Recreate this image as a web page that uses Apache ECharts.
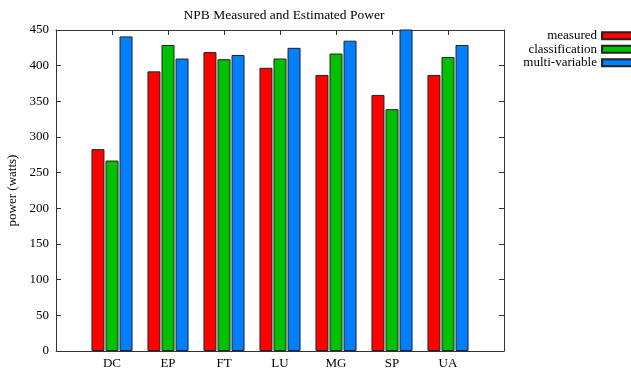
<!DOCTYPE html>
<html>
<head>
<meta charset="utf-8">
<script src="https://cdn.jsdelivr.net/npm/echarts@6/dist/echarts.min.js"></script>
<style>
  html, body { margin: 0; padding: 0; background: #fff; }
  #chart { width: 631px; height: 377px; }
</style>
</head>
<body>
<div id="chart"></div>
<script>
// NPB benchmark power: measured vs. two estimation models
const categories = ['DC', 'EP', 'FT', 'LU', 'MG', 'SP', 'UA'];
const measured = [283, 392, 419, 397, 387, 359, 387];
const classification = [267, 429, 409, 410, 417, 339, 412];
const multiVariable = [441, 410, 415, 425, 435, 458, 429];
const yTicks = [0, 50, 100, 150, 200, 250, 300, 350, 400, 450];

const FONT = 'Liberation Serif';
const FONT_SIZE = 13;
const AXIS_COLOR = '#333';

// Benchmarks sit at x = 1..n on a value axis spanning 0..n+1
const toPoints = vals => vals.map((v, i) => [i + 1, v]);

const barStyle = color => ({ color: color, borderColor: '#222', borderWidth: 1 });

const frameLine = { show: true, onZero: false, lineStyle: { color: AXIS_COLOR, width: 1 } };
const innerTick = { show: true, inside: true, length: 5, lineStyle: { color: AXIS_COLOR } };

const chart = echarts.init(document.getElementById('chart'), null, { renderer: 'canvas' });

chart.setOption({
  animation: false,
  backgroundColor: '#fff',
  title: {
    text: 'NPB Measured and Estimated Power',
    left: 279, top: 3, textAlign: 'center',
    textStyle: { fontFamily: FONT, fontSize: 13.5, fontWeight: 'normal', color: '#000' }
  },
  legend: {
    orient: 'vertical',
    align: 'right',
    right: -2, top: 29,
    padding: 0,
    itemGap: 0,
    itemWidth: 30, itemHeight: 7,
    icon: 'rect',
    textStyle: { fontFamily: FONT, fontSize: FONT_SIZE, color: '#000', lineHeight: 13.5 },
    data: ['measured', 'classification', 'multi-variable']
  },
  grid: { left: 56, right: 127, top: 30, bottom: 26, containLabel: false, outerBoundsMode: 'none' },
  xAxis: [
    {
      type: 'value', min: 0, max: categories.length + 1, interval: 1,
      position: 'bottom',
      axisLine: frameLine,
      axisTick: innerTick,
      splitLine: { show: false },
      axisLabel: {
        margin: 6, fontFamily: FONT, fontSize: FONT_SIZE, color: '#000',
        formatter: v => categories[v - 1] || ''
      }
    },
    {
      type: 'value', min: 0, max: categories.length + 1, interval: 1,
      position: 'top',
      axisLine: frameLine,
      axisTick: innerTick,
      splitLine: { show: false },
      axisLabel: { show: false }
    }
  ],
  yAxis: [
    {
      type: 'value', min: yTicks[0], max: yTicks[yTicks.length - 1], interval: 50,
      position: 'left',
      name: 'power (watts)', nameLocation: 'middle', nameGap: 32, nameRotate: 90,
      nameTextStyle: { fontFamily: FONT, fontSize: FONT_SIZE, color: '#000' },
      axisLine: frameLine,
      axisTick: innerTick,
      splitLine: { show: false },
      axisLabel: { margin: 7, fontFamily: FONT, fontSize: FONT_SIZE, color: '#000' }
    },
    {
      type: 'value', min: yTicks[0], max: yTicks[yTicks.length - 1], interval: 50,
      position: 'right',
      axisLine: frameLine,
      axisTick: innerTick,
      splitLine: { show: false },
      axisLabel: { show: false }
    }
  ],
  series: [
    { name: 'measured', type: 'bar', data: toPoints(measured), barWidth: 13, barGap: '8%',
      clip: true, itemStyle: barStyle('#ff0000') },
    { name: 'classification', type: 'bar', data: toPoints(classification), barWidth: 13, barGap: '8%',
      clip: true, itemStyle: barStyle('#00c000') },
    { name: 'multi-variable', type: 'bar', data: toPoints(multiVariable), barWidth: 13, barGap: '8%',
      clip: true, itemStyle: barStyle('#0080ff') }
  ]
});
</script>
</body>
</html>
